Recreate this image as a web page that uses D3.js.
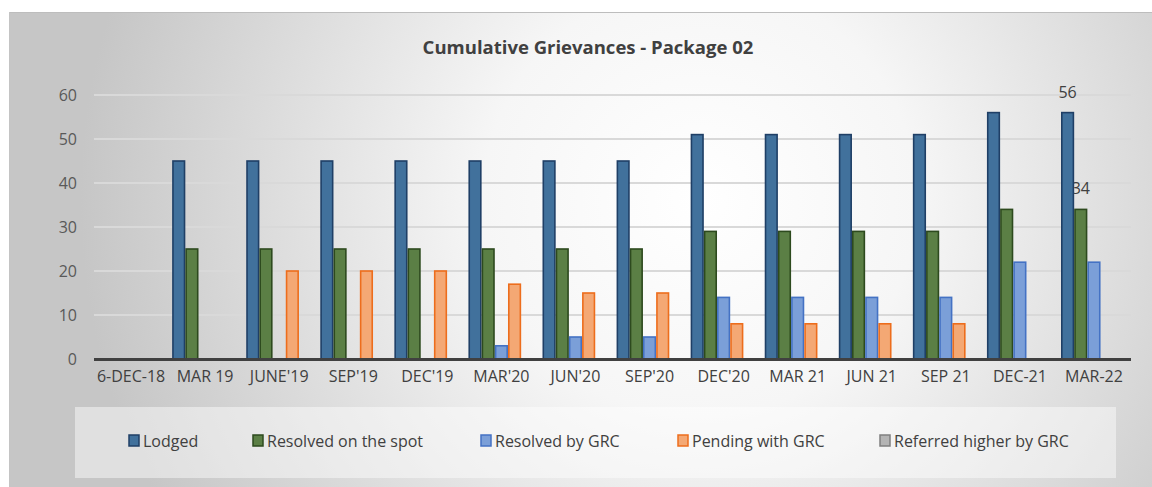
<!DOCTYPE html>
<html>
<head>
<meta charset="utf-8">
<script src="https://cdn.jsdelivr.net/npm/d3@7"></script>
<style>
  html, body { margin: 0; padding: 0; background: #ffffff; }
  svg { display: block; font-family: "Open Sans", "Noto Sans", sans-serif; }
</style>
</head>
<body>
<svg id="chart" width="1152" height="487"></svg>
<script>
// Reporting periods
const categories = ["6-DEC-18", "MAR 19", "JUNE'19", "SEP'19", "DEC'19", "MAR'20", "JUN'20",
  "SEP'20", "DEC'20", "MAR 21", "JUN 21", "SEP 21", "DEC-21", "MAR-22"];

// Cumulative counts per series
const lodged          = [0, 45, 45, 45, 45, 45, 45, 45, 51, 51, 51, 51, 56, 56];
const resolvedOnSpot  = [0, 25, 25, 25, 25, 25, 25, 25, 29, 29, 29, 29, 34, 34];
const resolvedByGRC   = [0, 0, 0, 0, 0, 3, 5, 5, 14, 14, 14, 14, 22, 22];
const pendingWithGRC  = [0, 0, 20, 20, 20, 17, 15, 15, 8, 8, 8, 8, 0, 0];
const referredHigher  = [0, 0, 0, 0, 0, 0, 0, 0, 0, 0, 0, 0, 0, 0];

const seriesNames = ["Lodged", "Resolved on the spot", "Resolved by GRC", "Pending with GRC", "Referred higher by GRC"];
const yTicks = [0, 10, 20, 30, 40, 50, 60];

const series = [
  { name: seriesNames[0], values: lodged,         fill: "#41719c", stroke: "#1f3f66" },
  { name: seriesNames[1], values: resolvedOnSpot, fill: "#5b7f45", stroke: "#2d4a1e" },
  { name: seriesNames[2], values: resolvedByGRC,  fill: "#7b9fd8", stroke: "#4472c4" },
  { name: seriesNames[3], values: pendingWithGRC, fill: "#f4a874", stroke: "#ed6d1c" },
  { name: seriesNames[4], values: referredHigher, fill: "#b4b4b4", stroke: "#7f7f7f" }
];

// Labels shown only on the last period
const labelled = [{ s: 0, i: 13 }, { s: 1, i: 13 }];

const svg = d3.select("#chart");
const W = 1152, H = 487;
const margin = { left: 94, right: 1131, top: 95, bottom: 359 };

// Background panel with a soft radial gradient
const defs = svg.append("defs");
const grad = defs.append("radialGradient").attr("id", "bg")
  .attr("gradientUnits", "userSpaceOnUse")
  .attr("cx", 700).attr("cy", 200).attr("r", 620);
grad.append("stop").attr("offset", "0%").attr("stop-color", "#ffffff");
grad.append("stop").attr("offset", "35%").attr("stop-color", "#f6f6f6");
grad.append("stop").attr("offset", "100%").attr("stop-color", "#c6c6c6");

svg.append("rect").attr("x", 9).attr("y", 12).attr("width", W - 9).attr("height", H - 12)
  .attr("fill", "url(#bg)");
svg.append("line").attr("x1", 9).attr("x2", W).attr("y1", 12.5).attr("y2", 12.5)
  .attr("stroke", "#bdbdbd").attr("stroke-width", 1);
svg.append("line").attr("x1", 9.5).attr("x2", 9.5).attr("y1", 12).attr("y2", H)
  .attr("stroke", "#c4c4c4").attr("stroke-width", 1);

// Title
svg.append("text").attr("x", 588).attr("y", 54).attr("text-anchor", "middle")
  .attr("font-size", 18.5).attr("font-weight", "bold").attr("fill", "#404040")
  .text("Cumulative Grievances - Package 02");

const x = d3.scaleBand().domain(categories).range([margin.left, margin.right])
  .paddingInner(0.11).paddingOuter(0.055);
const xs = d3.scaleBand().domain(d3.range(series.length)).range([0, x.bandwidth()]);
const y = d3.scaleLinear().domain([0, 60]).range([margin.bottom, margin.top]);

// Gridlines
svg.append("g").selectAll("line").data(yTicks.slice(1)).join("line")
  .attr("x1", margin.left).attr("x2", margin.right)
  .attr("y1", d => y(d)).attr("y2", d => y(d))
  .attr("stroke", "#d9d9d9").attr("stroke-width", 2);

// Y axis labels
const yAxis = svg.append("g").attr("transform", `translate(${margin.left - 17},0)`)
  .call(d3.axisLeft(y).tickValues(yTicks).tickSize(0).tickPadding(0));
yAxis.select(".domain").remove();
yAxis.selectAll("text").attr("font-size", 16).attr("fill", "#595959")
  .attr("font-family", "Open Sans, sans-serif");

// Data labels (drawn beneath the bars)
svg.append("g").selectAll("text").data(labelled).join("text")
  .attr("x", d => x(categories[d.i]) + xs(d.s) + xs.bandwidth() / 2)
  .attr("y", d => y(series[d.s].values[d.i]) - 15)
  .attr("text-anchor", "middle").attr("font-size", 16).attr("fill", "#404040")
  .text(d => series[d.s].values[d.i]);

// Bars
const groups = svg.append("g").selectAll("g").data(series).join("g")
  .attr("fill", d => d.fill).attr("stroke", d => d.stroke).attr("stroke-width", 1.6);
groups.each(function (s, si) {
  d3.select(this).selectAll("rect").data(s.values.map((v, i) => ({ v, i })).filter(d => d.v > 0))
    .join("rect")
    .attr("x", d => x(categories[d.i]) + xs(si) + 0.8)
    .attr("width", xs.bandwidth() - 1.6)
    .attr("y", d => y(d.v))
    .attr("height", d => y(0) - y(d.v));
});

// X axis baseline and labels
svg.append("line").attr("x1", margin.left).attr("x2", margin.right)
  .attr("y1", y(0) + 0.5).attr("y2", y(0) + 0.5)
  .attr("stroke", "#404040").attr("stroke-width", 3);
const xAxis = svg.append("g").attr("transform", `translate(0,${y(0) + 12})`)
  .call(d3.axisBottom(x).tickSize(0).tickPadding(0));
xAxis.select(".domain").remove();
xAxis.selectAll("text").attr("font-size", 16).attr("fill", "#404040")
  .attr("font-family", "Open Sans, sans-serif");

// Legend
svg.append("rect").attr("x", 75).attr("y", 407).attr("width", 1041).attr("height", 71)
  .attr("fill", "#ffffff").attr("fill-opacity", 0.45);
const legendX = [129, 253, 481, 678, 880];
const lg = svg.append("g").selectAll("g").data(series).join("g")
  .attr("transform", (d, i) => `translate(${legendX[i]},441)`);
lg.append("rect").attr("x", 0).attr("y", -6).attr("width", 10).attr("height", 11)
  .attr("fill", d => d.fill).attr("stroke", d => d.stroke).attr("stroke-width", 1.5);
lg.append("text").attr("x", 14).attr("y", 0).attr("dy", "0.35em")
  .attr("font-size", 16).attr("fill", "#404040")
  .text(d => d.name);
</script>
</body>
</html>
